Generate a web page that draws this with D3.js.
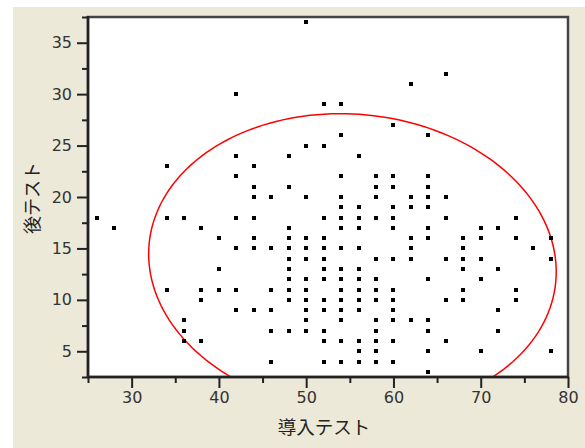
<!DOCTYPE html>
<html>
<head>
<meta charset="utf-8">
<script src="https://cdn.jsdelivr.net/npm/d3@7"></script>
<style>
  html, body { margin: 0; padding: 0; background: #fff; }
  svg { display: block; }
</style>
</head>
<body>
<svg id="chart" width="585" height="448"></svg>
<script>
// post-test score levels, and the intro-test scores found at each level
const postLevels = [37, 32, 31, 30, 29, 27, 26, 25, 24, 23, 22, 21, 20, 19, 18, 17, 16, 15, 14, 13, 12, 11, 10, 9, 8, 7, 6, 5, 4, 3];
const introAtLevel = [
  [50],
  [66],
  [62],
  [42],
  [52, 54],
  [60],
  [54, 64],
  [50, 52],
  [42, 48, 56],
  [34, 44],
  [42, 54, 58, 60, 64],
  [44, 48, 58, 60, 64],
  [44, 46, 50, 54, 58, 62, 64, 66],
  [54, 56, 60, 62, 64],
  [26, 34, 36, 42, 44, 52, 54, 56, 58, 60, 66, 74],
  [28, 38, 48, 54, 56, 60, 64, 70, 72],
  [40, 44, 48, 50, 52, 62, 64, 68, 70, 74, 78],
  [42, 44, 46, 48, 50, 52, 54, 56, 62, 68, 76],
  [48, 50, 52, 58, 60, 62, 66, 68, 70, 78],
  [40, 48, 52, 54, 56, 68, 72],
  [48, 50, 52, 54, 56, 58, 64, 70],
  [34, 38, 40, 42, 46, 48, 50, 54, 56, 58, 60, 68, 74],
  [38, 48, 50, 52, 54, 56, 58, 60, 66, 68, 74],
  [42, 44, 46, 50, 52, 54, 56, 60, 72],
  [36, 50, 54, 58, 60, 62, 64],
  [36, 46, 48, 50, 52, 58, 64, 72],
  [36, 38, 52, 54, 56, 58, 60, 66],
  [56, 58, 64, 70, 78],
  [46, 52, 54, 56, 58, 60],
  [64]
];

// density ellipse: centre, half-axes (x, y) and correlation
const ellipseCenter = [55.3, 13.6];
const ellipseHalf = [23.35, 14.5];
const ellipseCorr = -0.06;

const xMajor = [30, 40, 50, 60, 70, 80];
const xMinor = [25, 35, 45, 55, 65, 75];
const yMajor = [5, 10, 15, 20, 25, 30, 35];
const yMinor = [2.5, 7.5, 12.5, 17.5, 22.5, 27.5, 32.5, 37.5];

const xLabel = "導入テスト";
const yLabel = "後テスト";

const points = [];
postLevels.forEach(function (v, i) {
  introAtLevel[i].forEach(function (u) { points.push({ x: u, y: v }); });
});

const svg = d3.select("#chart");
const pLeft = 88, pRight = 568, pTop = 17, pBottom = 377;

const x = d3.scaleLinear().domain([25, 80]).range([pLeft, pRight]);
const y = d3.scaleLinear().domain([2.5, 37.5]).range([pBottom, pTop]);

// panel background
svg.append("rect")
  .attr("x", 13).attr("y", 7)
  .attr("width", 585 - 13).attr("height", 448 - 7)
  .attr("fill", "#ece9d8");

// plot area
svg.append("rect")
  .attr("x", pLeft).attr("y", pTop)
  .attr("width", pRight - pLeft).attr("height", pBottom - pTop)
  .attr("fill", "#fff")
  .attr("stroke", "#444")
  .attr("stroke-width", 2.5);

svg.append("defs").append("clipPath").attr("id", "plotclip")
  .append("rect")
  .attr("x", pLeft).attr("y", pTop)
  .attr("width", pRight - pLeft).attr("height", pBottom - pTop);

// ellipse
const angles = d3.range(0, 361, 2).map(function (a) { return a * Math.PI / 180; });
const s = Math.sqrt(1 - ellipseCorr * ellipseCorr);
const ellipsePts = angles.map(function (t) {
  return [
    ellipseCenter[0] + ellipseHalf[0] * Math.cos(t),
    ellipseCenter[1] + ellipseHalf[1] * (ellipseCorr * Math.cos(t) + s * Math.sin(t))
  ];
});
svg.append("path")
  .datum(ellipsePts)
  .attr("clip-path", "url(#plotclip)")
  .attr("fill", "none")
  .attr("stroke", "#ff0000")
  .attr("stroke-width", 1.5)
  .attr("d", d3.line().x(function (d) { return x(d[0]); }).y(function (d) { return y(d[1]); }));

// points
svg.append("g").selectAll("rect")
  .data(points)
  .enter()
  .append("rect")
  .attr("x", function (d) { return Math.round(x(d.x)) - 2; })
  .attr("y", function (d) { return Math.round(y(d.y)) - 2; })
  .attr("width", 4)
  .attr("height", 4)
  .attr("fill", "#000");

// axes
function styleAxis(g) {
  g.select(".domain").remove();
  g.selectAll(".tick line").attr("stroke", "#222").attr("stroke-width", 2);
  g.selectAll(".tick text")
    .attr("fill", "#333")
    .style("font-family", "DejaVu Sans, sans-serif")
    .style("font-size", "16px");
}

svg.append("g")
  .attr("transform", "translate(0," + pBottom + ")")
  .call(d3.axisBottom(x).tickValues(xMinor).tickSize(6).tickFormat(""))
  .call(styleAxis);
svg.append("g")
  .attr("transform", "translate(0," + pBottom + ")")
  .call(d3.axisBottom(x).tickValues(xMajor).tickSize(11).tickPadding(4).tickFormat(d3.format("d")))
  .call(styleAxis);

svg.append("g")
  .attr("transform", "translate(" + pLeft + ",0)")
  .call(d3.axisLeft(y).tickValues(yMinor).tickSize(6).tickFormat(""))
  .call(styleAxis);
svg.append("g")
  .attr("transform", "translate(" + pLeft + ",0)")
  .call(d3.axisLeft(y).tickValues(yMajor).tickSize(11).tickPadding(5).tickFormat(d3.format("d")))
  .call(styleAxis);

// axis lines
svg.append("line")
  .attr("x1", pLeft).attr("x2", pLeft).attr("y1", pTop - 1).attr("y2", pBottom + 1)
  .attr("stroke", "#222").attr("stroke-width", 2.5);
svg.append("line")
  .attr("x1", pLeft - 1).attr("x2", pRight + 1).attr("y1", pBottom).attr("y2", pBottom)
  .attr("stroke", "#222").attr("stroke-width", 2.5);

// axis titles
svg.append("text")
  .attr("x", 324).attr("y", 434)
  .attr("text-anchor", "middle")
  .attr("fill", "#222")
  .style("font-family", "Noto Sans CJK JP, sans-serif")
  .style("font-size", "18.5px")
  .text(xLabel);

svg.append("text")
  .attr("transform", "translate(39," + ((pTop + pBottom) / 2 + 1) + ") rotate(-90)")
  .attr("text-anchor", "middle")
  .attr("fill", "#222")
  .style("font-family", "Noto Sans CJK JP, sans-serif")
  .style("font-size", "18px")
  .text(yLabel);
</script>
</body>
</html>
